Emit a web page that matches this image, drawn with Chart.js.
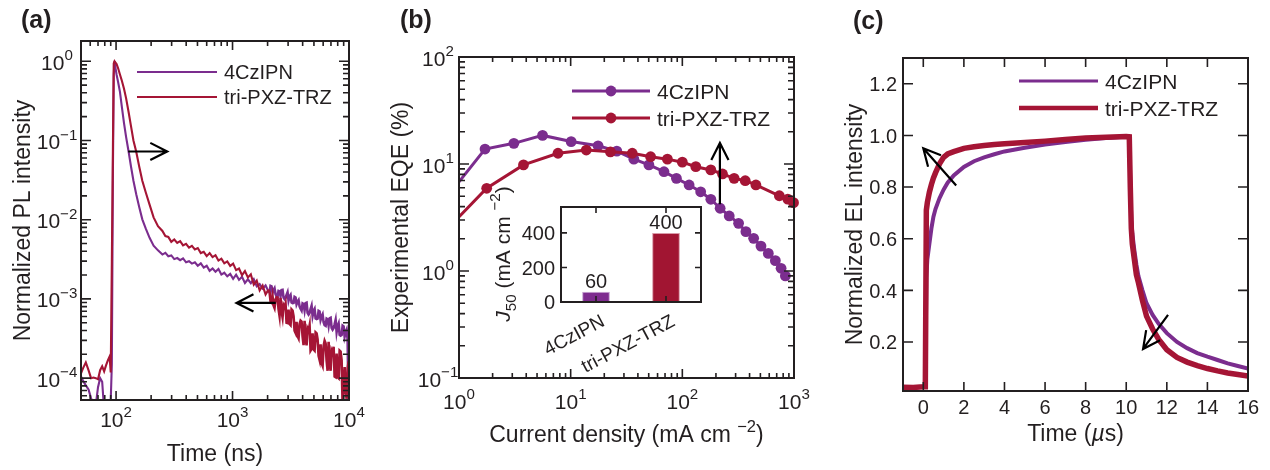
<!DOCTYPE html>
<html>
<head>
<meta charset="utf-8">
<title>4CzIPN vs tri-PXZ-TRZ</title>
<script src="https://cdn.jsdelivr.net/npm/chart.js@4.4.0/dist/chart.umd.min.js"></script>
<style>
  html, body { margin: 0; padding: 0; background: #fff; }
  #page { position: relative; width: 1270px; height: 470px; overflow: hidden; background: #fff; }
  #page canvas { position: absolute; }
</style>
</head>
<body>
<div id="page">
  <canvas id="plA" width="380" height="470" style="left:0px;top:0px"></canvas>
  <canvas id="eqeB" width="440" height="470" style="left:380px;top:0px"></canvas>
  <canvas id="j50Inset" width="250" height="200" style="left:470px;top:180px"></canvas>
  <canvas id="elC" width="450" height="470" style="left:820px;top:0px"></canvas>
</div>
<script>
// ---------- (a) transient photoluminescence, time in ns ----------
const plTime = [
  50, 52, 55, 58, 61, 64, 67, 70, 73, 76, 79, 82, 85, 88, 90, 92, 94, 95.5, 97, 98.5,
  101, 104, 108, 112, 117, 122, 128, 134, 141, 149, 158, 168, 180, 194, 210, 229,
  250, 265, 281, 298, 316, 335, 355, 376, 399, 423, 448, 475, 503, 534, 566, 600, 636, 674, 714, 757,
  802, 850, 901, 955, 1012, 1073, 1137, 1206, 1278, 1355, 1436, 1522, 1614, 1710, 1813, 1922, 2037,
  2079, 2120, 2162, 2205, 2249, 2294, 2340, 2387, 2435, 2483, 2533, 2583, 2635, 2688, 2742, 2796,
  2852, 2909, 2968, 3027, 3088, 3149, 3212, 3276, 3342, 3409, 3477, 3546, 3618, 3690, 3764, 3839,
  3916, 3994, 4074, 4155, 4239, 4323, 4410, 4498, 4588, 4679, 4773, 4868, 4966, 5065, 5167, 5270,
  5375, 5482, 5592, 5704, 5818, 5934, 6053, 6174, 6298, 6423, 6552, 6683, 6817, 6952, 7092, 7233,
  7378, 7525, 7676, 7829, 7986, 8146, 8309, 8474, 8644, 8817, 8993, 9173, 9356, 9543, 9734, 9929
];
const plCzIPN = [
  1.05e-4, 9.3e-5, 8.1e-5, 7.2e-5, 5.6e-5, 4.5e-5, 4.6e-5, 7.7e-5, 1.0e-4, 9.0e-5, 4.0e-5, 4.0e-5,
  4.0e-5, 4.0e-5, 5.2e-5, 1.5e-4, 0.043, 0.67, 1.0, 0.85,
  0.68, 0.55, 0.41, 0.27, 0.165, 0.11, 0.073, 0.048, 0.031, 0.021, 0.0145, 0.0101, 0.0077, 0.0059, 0.0047, 0.0041,
  3.63e-3, 3.81e-3, 3.46e-3, 3.54e-3, 3.18e-3, 3.28e-3, 3.08e-3, 3.24e-3, 2.90e-3, 2.99e-3,
  2.79e-3, 2.90e-3, 2.62e-3, 2.81e-3, 2.48e-3, 2.62e-3, 2.26e-3, 2.42e-3, 2.20e-3, 2.39e-3,
  2.03e-3, 2.14e-3, 1.93e-3, 2.07e-3, 1.79e-3, 2.02e-3, 1.74e-3, 1.90e-3, 1.59e-3, 1.77e-3,
  1.58e-3, 1.78e-3, 1.44e-3, 1.54e-3, 1.35e-3, 1.48e-3, 1.24e-3,
  1.22e-3, 1.46e-3, 1.44e-3, 1.20e-3, 1.29e-3, 1.36e-3, 1.15e-3, 1.08e-3, 1.07e-3, 1.26e-3, 1.25e-3, 1.09e-3,
  1.29e-3, 1.30e-3, 1.04e-3, 9.97e-4, 1.03e-3, 1.12e-3, 1.21e-3, 9.56e-4, 1.07e-3, 1.12e-3, 8.99e-4, 8.83e-4,
  8.91e-4, 1.06e-3, 1.04e-3, 8.56e-4, 9.20e-4, 9.65e-4, 8.05e-4, 7.52e-4, 7.13e-4, 8.77e-4, 8.61e-4, 7.18e-4,
  8.83e-4, 8.95e-4, 6.68e-4, 6.35e-4, 6.65e-4, 7.43e-4, 8.17e-4, 6.10e-4, 7.03e-4, 7.46e-4, 5.66e-4, 5.56e-4,
  5.65e-4, 7.06e-4, 6.93e-4, 5.43e-4, 5.98e-4, 6.37e-4, 5.07e-4, 4.66e-4, 4.58e-4, 5.64e-4, 5.53e-4, 4.62e-4,
  5.70e-4, 5.78e-4, 4.32e-4, 4.10e-4, 4.30e-4, 4.79e-4, 5.43e-4, 3.82e-4, 4.55e-4, 4.91e-4, 3.52e-4, 3.44e-4,
  3.51e-4, 4.61e-4, 4.51e-4, 3.35e-4, 3.77e-4, 4.07e-4, 3.08e-4, 4.5e-5
];
const plTriPXZ = [
  1.15e-4, 1.33e-4, 1.58e-4, 1.26e-4, 1.0e-4, 1.02e-4, 1.0e-4, 9.7e-5, 1.26e-4, 1.41e-4, 1.22e-4, 1.45e-4,
  1.68e-4, 1.88e-4, 1.18e-4, 3.0e-3, 0.0845, 0.94, 1.0, 0.97,
  0.92, 0.82, 0.68, 0.57, 0.45, 0.34, 0.23, 0.155, 0.1, 0.072, 0.047, 0.031, 0.022, 0.0155, 0.0107, 0.0083,
  7.20e-3, 6.20e-3, 6.06e-3, 5.25e-3, 5.62e-3, 5.09e-3, 5.37e-3, 4.73e-3, 4.95e-3, 4.44e-3,
  4.68e-3, 4.22e-3, 4.39e-3, 3.79e-3, 3.93e-3, 3.47e-3, 3.79e-3, 3.37e-3, 3.56e-3, 3.05e-3,
  3.22e-3, 2.81e-3, 2.97e-3, 2.61e-3, 2.79e-3, 2.31e-3, 2.42e-3, 2.00e-3, 2.25e-3, 1.87e-3,
  2.04e-3, 1.51e-3, 1.70e-3, 1.28e-3, 1.48e-3, 1.14e-3, 1.31e-3,
  1.22e-3, 9.33e-4, 9.02e-4, 1.08e-3, 8.28e-4, 7.69e-4, 9.86e-4, 1.05e-3, 1.04e-3, 7.45e-4, 6.11e-4, 1.03e-3,
  6.97e-4, 5.87e-4, 8.36e-4, 7.87e-4, 8.75e-4, 5.01e-4, 4.97e-4, 7.33e-4, 4.82e-4, 4.67e-4, 7.35e-4, 7.11e-4,
  6.04e-4, 3.97e-4, 3.72e-4, 5.14e-4, 3.38e-4, 3.18e-4, 4.83e-4, 5.33e-4, 5.18e-4, 3.36e-4, 2.61e-4, 5.31e-4,
  3.20e-4, 2.59e-4, 4.22e-4, 3.95e-4, 4.62e-4, 2.23e-4, 2.34e-4, 3.68e-4, 2.30e-4, 2.23e-4, 3.78e-4, 3.67e-4,
  3.08e-4, 1.92e-4, 1.70e-4, 2.68e-4, 1.54e-4, 1.43e-4, 2.56e-4, 2.96e-4, 2.75e-4, 1.66e-4, 1.24e-4, 2.88e-4,
  1.58e-4, 1.24e-4, 2.22e-4, 2.07e-4, 2.49e-4, 1.05e-4, 1.03e-4, 2.05e-4, 1.03e-4, 1.0e-4, 2.22e-4, 2.16e-4,
  1.68e-4, 4.5e-5, 7.73e-5, 1.38e-4, 6.90e-5, 5.5e-5, 1.33e-4, 1.62e-4
];
const plXTicks = [100, 1000, 10000];
const plYTicks = [1, 0.1, 0.01, 0.001, 0.0001];

// ---------- (b) EQE versus current density (mA cm-2) ----------
const eqeJCzIPN = [0.85, 1.71, 3.10, 5.6, 10.1, 17.6, 25.9, 36.8, 50.2, 68.5, 88.5, 115, 146, 180, 218, 263, 319, 371, 435, 506, 589, 681, 766, 837];
const eqeCzIPN  = [5.5, 13.8, 15.6, 18.5, 16.2, 14.8, 13.2, 11.1, 9.8, 8.47, 7.34, 6.37, 5.5, 4.68, 3.86, 3.27, 2.79, 2.33, 2.02, 1.71, 1.46, 1.25, 1.06, 0.90];
const eqeJTriPXZ = [0.85, 1.77, 3.78, 7.7, 13.8, 22.7, 35.6, 52, 73.5, 100, 132, 180, 229, 291, 366, 456, 739, 880, 990];
const eqeTriPXZ  = [2.69, 5.93, 9.8, 12.6, 13.5, 13.0, 12.6, 11.7, 11.1, 10.4, 9.44, 8.8, 8.07, 7.34, 6.98, 6.37, 5.05, 4.7, 4.35];
const eqeXTicks = [1, 10, 100, 1000];
const eqeYTicks = [0.1, 1, 10, 100];

// ---------- inset: J50 ----------
const j50Labels = ['4CzIPN', 'tri-PXZ-TRZ'];
const j50Values = [60, 400];
const j50YTicks = [0, 200, 400];

// ---------- (c) transient electroluminescence, time in us ----------
const elTime = [-1, -0.5, 0, 0.1, 0.15, 0.2, 0.3, 0.4, 0.5, 0.6, 0.8, 1.0, 1.2, 1.5, 2.0, 2.5, 3.0, 3.5, 4.0, 5.0,
  6.0, 7.0, 8.0, 9.0, 10.0, 10.15, 10.2, 10.25, 10.3, 10.4, 10.5, 10.6, 10.8, 11.0, 11.3, 11.6, 12.0, 12.5,
  13.0, 13.5, 14.0, 14.5, 15.0, 15.5, 16.0];
const elCzIPN = [0.025, 0.024, 0.026, 0.026, 0.45, 0.52, 0.58, 0.64, 0.685, 0.715, 0.757, 0.79, 0.817, 0.845, 0.878, 0.9, 0.915, 0.927, 0.938, 0.952,
  0.965, 0.975, 0.983, 0.99, 0.995, 0.99, 0.82, 0.67, 0.62, 0.555, 0.50, 0.455, 0.40, 0.35, 0.305, 0.27, 0.234, 0.2,
  0.176, 0.157, 0.143, 0.13, 0.117, 0.107, 0.097];
const elTriPXZ = [0.025, 0.024, 0.026, 0.026, 0.71, 0.74, 0.78, 0.81, 0.835, 0.855, 0.89, 0.915, 0.928, 0.937, 0.95, 0.956, 0.961, 0.965, 0.968, 0.973,
  0.978, 0.984, 0.99, 0.993, 0.996, 0.995, 0.80, 0.64, 0.58, 0.52, 0.46, 0.43, 0.36, 0.30, 0.25, 0.21, 0.17, 0.14,
  0.122, 0.108, 0.097, 0.088, 0.08, 0.074, 0.068];
const elXTicks = [0, 2, 4, 6, 8, 10, 12, 14, 16];
const elYTicks = [0.2, 0.4, 0.6, 0.8, 1.0, 1.2];

// ---------- shared styling ----------
const FONT = "'Liberation Sans', Arial, Helvetica, sans-serif";
const INK = '#231f20';
const CZ = '#7b2d8e';
const TRI = '#a51535';

// text made of runs (plain / superscript / subscript / italic / bold)
function drawRich(ctx, segs, x, y, o) {
  const size = o.size;
  const parts = segs.map(s => {
    const small = s.sup || s.sub;
    const sz = small ? size * 0.72 : size;
    const font = (s.italic ? 'italic ' : '') + (s.bold ? 'bold ' : '') + sz + 'px ' + FONT;
    ctx.font = font;
    return { t: s.t, font, w: ctx.measureText(s.t).width, dy: s.sup ? -size * 0.45 : (s.sub ? size * 0.3 : 0) };
  });
  const total = parts.reduce((acc, p) => acc + p.w, 0);
  ctx.save();
  ctx.translate(x, y);
  if (o.rotate) ctx.rotate(o.rotate);
  let cx = o.align === 'center' ? -total / 2 : (o.align === 'right' ? -total : 0);
  const base = o.middle ? size * 0.36 : 0;
  ctx.fillStyle = o.color || INK;
  ctx.textAlign = 'left';
  ctx.textBaseline = 'alphabetic';
  for (const p of parts) { ctx.font = p.font; ctx.fillText(p.t, cx, base + p.dy); cx += p.w; }
  ctx.restore();
}

function powLabel(v) {
  const k = Math.round(Math.log10(v));
  return [{ t: '10' }, { t: (k < 0 ? '\u2212' : '') + Math.abs(k), sup: true }];
}

function logTicks(min, max) {
  const out = [];
  for (let k = Math.floor(Math.log10(min)); k <= Math.ceil(Math.log10(max)); k++) {
    for (let m = 1; m <= 9; m++) {
      const v = m * Math.pow(10, k);
      if (v >= min * 0.999 && v <= max * 1.001) out.push({ v, major: m === 1 });
    }
  }
  return out;
}

function drawTicks(ctx, scale, area, list, axis, lenMajor, lenMinor) {
  ctx.save();
  ctx.strokeStyle = INK;
  ctx.lineWidth = 1.6;
  ctx.beginPath();
  for (const tk of list) {
    const len = tk.major ? lenMajor : lenMinor;
    const p = scale.getPixelForValue(tk.v);
    if (axis === 'x') {
      ctx.moveTo(p, area.bottom); ctx.lineTo(p, area.bottom - len);
      ctx.moveTo(p, area.top); ctx.lineTo(p, area.top + len);
    } else {
      ctx.moveTo(area.left, p); ctx.lineTo(area.left + len, p);
      ctx.moveTo(area.right, p); ctx.lineTo(area.right - len, p);
    }
  }
  ctx.stroke();
  ctx.restore();
}

function drawFrame(ctx, area, lw) {
  ctx.save();
  ctx.strokeStyle = INK;
  ctx.lineWidth = lw || 2;
  ctx.strokeRect(area.left, area.top, area.right - area.left, area.bottom - area.top);
  ctx.restore();
}

function drawArrow(ctx, x1, y1, x2, y2) {
  const ang = Math.atan2(y2 - y1, x2 - x1), h = 19, spread = 0.47;
  ctx.save();
  ctx.strokeStyle = '#000';
  ctx.lineWidth = 2.2;
  ctx.lineCap = 'butt';
  ctx.beginPath();
  ctx.moveTo(x1, y1); ctx.lineTo(x2, y2);
  ctx.moveTo(x2 - h * Math.cos(ang - spread), y2 - h * Math.sin(ang - spread));
  ctx.lineTo(x2, y2);
  ctx.lineTo(x2 - h * Math.cos(ang + spread), y2 - h * Math.sin(ang + spread));
  ctx.stroke();
  ctx.restore();
}

function legendRow(ctx, x1, x2, y, color, lw, label, size, markerR) {
  ctx.save();
  ctx.strokeStyle = color;
  ctx.lineWidth = lw;
  ctx.beginPath(); ctx.moveTo(x1, y); ctx.lineTo(x2, y); ctx.stroke();
  if (markerR) {
    ctx.fillStyle = color;
    ctx.beginPath(); ctx.arc((x1 + x2) / 2, y, markerR, 0, Math.PI * 2); ctx.fill();
  }
  ctx.restore();
  drawRich(ctx, [{ t: label }], x2 + 7, y, { size, middle: true });
}

function pairs(xs, ys) { return xs.map((x, i) => ({ x, y: ys[i] })); }

// the noisy long-time tail of the PL decays is stroked a little heavier
const tailWidth = { borderWidth: seg => (seg.p0.parsed.x >= 2000 ? 2.6 : 2.1) };

const baseOptions = (padding, scales) => ({
  responsive: false,
  animation: false,
  devicePixelRatio: 1,
  layout: { padding },
  plugins: { legend: { display: false }, tooltip: { enabled: false } },
  scales
});

// ---------- panel (a) ----------
new Chart(document.getElementById('plA'), {
  type: 'line',
  data: {
    datasets: [
      { label: 'tri-PXZ-TRZ', data: pairs(plTime, plTriPXZ), borderColor: TRI, borderWidth: 2.1, pointRadius: 0, tension: 0, order: 0, segment: tailWidth },
      { label: '4CzIPN', data: pairs(plTime, plCzIPN), borderColor: CZ, borderWidth: 2.1, pointRadius: 0, tension: 0, order: 1, segment: tailWidth }
    ]
  },
  options: baseOptions({ left: 81, right: 31, top: 41, bottom: 70 }, {
    x: { type: 'logarithmic', min: 50, max: 10000, display: false },
    y: { type: 'logarithmic', min: 5.3e-5, max: 1.8, display: false }
  }),
  plugins: [{
    id: 'decor',
    afterDatasetsDraw(chart) {
      const ctx = chart.ctx, a = chart.chartArea, xs = chart.scales.x, ys = chart.scales.y;
      drawTicks(ctx, xs, a, logTicks(50, 10000), 'x', 9, 5);
      drawTicks(ctx, ys, a, logTicks(5.3e-5, 1.8), 'y', 10, 6);
      drawFrame(ctx, a);
      for (const v of plXTicks) drawRich(ctx, powLabel(v), xs.getPixelForValue(v), 419, { size: 21, align: 'center', middle: true });
      for (const v of plYTicks) drawRich(ctx, powLabel(v), 57, ys.getPixelForValue(v) + 1, { size: 21, align: 'center', middle: true });
      drawRich(ctx, [{ t: 'Time (ns)' }], (a.left + a.right) / 2, 453, { size: 23, align: 'center', middle: true });
      drawRich(ctx, [{ t: 'Normalized PL intensity' }], 22, (a.top + a.bottom) / 2, { size: 23, align: 'center', middle: true, rotate: -Math.PI / 2 });
      drawRich(ctx, [{ t: '(a)', bold: true }], 21, 19, { size: 25, middle: true });
      legendRow(ctx, 137, 217, 72, CZ, 2, '4CzIPN', 20);
      legendRow(ctx, 137, 217, 97, TRI, 2, 'tri-PXZ-TRZ', 20);
      drawArrow(ctx, xs.getPixelForValue(127), ys.getPixelForValue(0.0726), xs.getPixelForValue(275), ys.getPixelForValue(0.0726));
      drawArrow(ctx, xs.getPixelForValue(2350), ys.getPixelForValue(8.9e-4), xs.getPixelForValue(1082), ys.getPixelForValue(8.9e-4));
    }
  }]
});

// ---------- panel (b) ----------
new Chart(document.getElementById('eqeB'), {
  type: 'line',
  data: {
    datasets: [
      { label: 'tri-PXZ-TRZ', data: pairs(eqeJTriPXZ, eqeTriPXZ), borderColor: TRI, backgroundColor: TRI, borderWidth: 3,
        pointRadius: 5.4, pointBorderWidth: 0, pointBackgroundColor: TRI, tension: 0, order: 0, clip: { left: 0, top: 0, right: 8, bottom: 0 } },
      { label: '4CzIPN', data: pairs(eqeJCzIPN, eqeCzIPN), borderColor: CZ, backgroundColor: CZ, borderWidth: 3,
        pointRadius: 5.4, pointBorderWidth: 0, pointBackgroundColor: CZ, tension: 0, order: 1, clip: { left: 0, top: 0, right: 8, bottom: 0 } }
    ]
  },
  options: baseOptions({ left: 79, right: 26, top: 57, bottom: 92 }, {
    x: { type: 'logarithmic', min: 1, max: 1000, display: false },
    y: { type: 'logarithmic', min: 0.1, max: 100, display: false }
  }),
  plugins: [{
    id: 'decor',
    afterDatasetsDraw(chart) {
      const ctx = chart.ctx, a = chart.chartArea, xs = chart.scales.x, ys = chart.scales.y;
      drawTicks(ctx, xs, a, logTicks(1, 1000), 'x', 9, 5);
      drawTicks(ctx, ys, a, logTicks(0.1, 100), 'y', 10, 6);
      drawFrame(ctx, a);
      for (const v of eqeXTicks) drawRich(ctx, powLabel(v), xs.getPixelForValue(v), 401, { size: 21, align: 'center', middle: true });
      for (const v of eqeYTicks) drawRich(ctx, powLabel(v), 58, ys.getPixelForValue(v) + 1, { size: 21, align: 'center', middle: true });
      drawRich(ctx, [{ t: 'Current density (mA cm ' }, { t: '\u22122', sup: true }, { t: ')' }], (a.left + a.right) / 2, 434, { size: 23, align: 'center', middle: true });
      drawRich(ctx, [{ t: 'Experimental EQE (%)' }], 20, (a.top + a.bottom) / 2, { size: 23, align: 'center', middle: true, rotate: -Math.PI / 2 });
      drawRich(ctx, [{ t: '(b)', bold: true }], 20, 19, { size: 25, middle: true });
      legendRow(ctx, 192, 270, 91, CZ, 3, '4CzIPN', 21, 5.4);
      legendRow(ctx, 192, 270, 118, TRI, 3, 'tri-PXZ-TRZ', 21, 5.4);
      drawArrow(ctx, xs.getPixelForValue(217), ys.getPixelForValue(4.2), xs.getPixelForValue(217), ys.getPixelForValue(15.7));
    }
  }]
});

// ---------- inset: J50 bars ----------
new Chart(document.getElementById('j50Inset'), {
  type: 'bar',
  data: {
    labels: j50Labels,
    datasets: [{
      data: j50Values,
      backgroundColor: ['#7e2c8f', '#a11532'],
      borderColor: ['#c7a2d2', '#d99aa8'],
      borderWidth: 1,
      barPercentage: 0.55,
      categoryPercentage: 0.72
    }]
  },
  options: baseOptions({ left: 91, right: 19, top: 27, bottom: 78 }, {
    x: { type: 'category', display: false },
    y: { type: 'linear', min: 0, max: 550, display: false }
  }),
  plugins: [{
    id: 'decor',
    beforeDatasetsDraw(chart) {
      const ctx = chart.ctx, a = chart.chartArea;
      ctx.save(); ctx.fillStyle = '#fff'; ctx.fillRect(a.left, a.top, a.right - a.left, a.bottom - a.top); ctx.restore();
    },
    afterDatasetsDraw(chart) {
      const ctx = chart.ctx, a = chart.chartArea, xs = chart.scales.x, ys = chart.scales.y;
      drawTicks(ctx, ys, a, j50YTicks.map(v => ({ v, major: true })), 'y', 6, 6);
      drawTicks(ctx, xs, a, j50Labels.map((_, i) => ({ v: i, major: true })), 'x', 6, 6);
      drawFrame(ctx, a, 2);
      for (const v of j50YTicks) drawRich(ctx, [{ t: String(v) }], a.left - 6, ys.getPixelForValue(v), { size: 20, align: 'right', middle: true });
      j50Values.forEach((v, i) => {
        drawRich(ctx, [{ t: String(v) }], xs.getPixelForValue(i), ys.getPixelForValue(v) - 4, { size: 20, align: 'center' });
      });
      j50Labels.forEach((lab, i) => {
        ctx.save();
        ctx.translate(xs.getPixelForValue(i) + 3, a.bottom + 10);
        ctx.rotate(-28 * Math.PI / 180);
        ctx.font = '19px ' + FONT;
        ctx.fillStyle = INK;
        ctx.textAlign = 'right';
        ctx.textBaseline = 'top';
        ctx.fillText(lab, 0, 0);
        ctx.restore();
      });
      drawRich(ctx, [{ t: 'J', italic: true }, { t: '50', sub: true }, { t: ' (mA cm ' }, { t: '\u22122', sup: true }, { t: ')' }],
        32, 74, { size: 21, align: 'center', middle: true, rotate: -Math.PI / 2 });
    }
  }]
});

// ---------- panel (c) ----------
new Chart(document.getElementById('elC'), {
  type: 'line',
  data: {
    datasets: [
      { label: 'tri-PXZ-TRZ', data: pairs(elTime, elTriPXZ), borderColor: TRI, borderWidth: 5.5, pointRadius: 0, tension: 0, order: 0 },
      { label: '4CzIPN', data: pairs(elTime, elCzIPN), borderColor: CZ, borderWidth: 4, pointRadius: 0, tension: 0, order: 1 }
    ]
  },
  options: baseOptions({ left: 83, right: 22, top: 58, bottom: 79 }, {
    x: { type: 'linear', min: -1, max: 16, display: false },
    y: { type: 'linear', min: 0.01, max: 1.3, display: false }
  }),
  plugins: [{
    id: 'decor',
    afterDatasetsDraw(chart) {
      const ctx = chart.ctx, a = chart.chartArea, xs = chart.scales.x, ys = chart.scales.y;
      drawTicks(ctx, xs, a, elXTicks.map(v => ({ v, major: true })), 'x', 9, 9);
      drawTicks(ctx, ys, a, elYTicks.map(v => ({ v, major: true })), 'y', 10, 10);
      drawFrame(ctx, a);
      for (const v of elXTicks) drawRich(ctx, [{ t: String(v) }], xs.getPixelForValue(v), 407, { size: 20, align: 'center', middle: true });
      for (const v of elYTicks) drawRich(ctx, [{ t: v.toFixed(1) }], 77, ys.getPixelForValue(v), { size: 20, align: 'right', middle: true });
      drawRich(ctx, [{ t: 'Time (' }, { t: '\u00b5', italic: true }, { t: 's)' }], (a.left + a.right) / 2, 433, { size: 23, align: 'center', middle: true });
      drawRich(ctx, [{ t: 'Normalized EL intensity' }], 34, (a.top + a.bottom) / 2, { size: 23, align: 'center', middle: true, rotate: -Math.PI / 2 });
      drawRich(ctx, [{ t: '(c)', bold: true }], 33, 20, { size: 25, middle: true });
      legendRow(ctx, 199, 278, 81, CZ, 3, '4CzIPN', 21);
      legendRow(ctx, 199, 278, 108, TRI, 4.5, 'tri-PXZ-TRZ', 21);
      drawArrow(ctx, xs.getPixelForValue(1.62), ys.getPixelForValue(0.806), xs.getPixelForValue(0.0), ys.getPixelForValue(0.95));
      drawArrow(ctx, xs.getPixelForValue(12.06), ys.getPixelForValue(0.305), xs.getPixelForValue(10.83), ys.getPixelForValue(0.173));
    }
  }]
});
</script>
</body>
</html>
